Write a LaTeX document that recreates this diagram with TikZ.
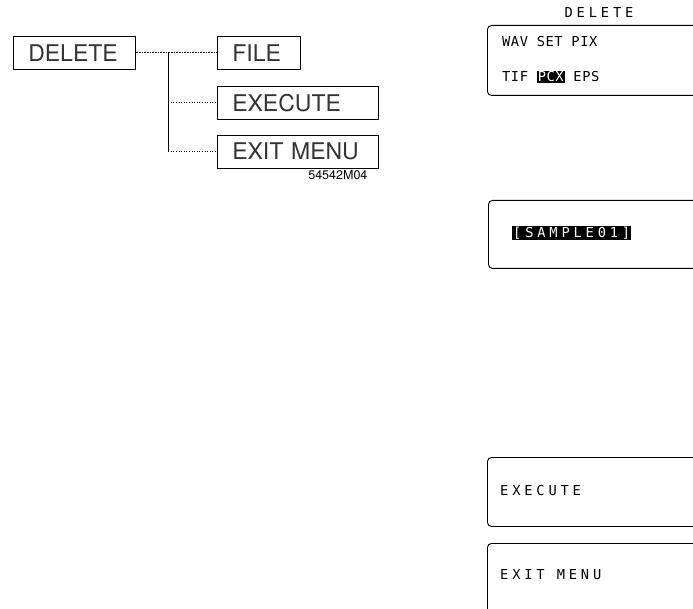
\documentclass[tikz,border=0pt]{standalone}
\usepackage{fontspec}
\setsansfont{TeX Gyre Heros}
\newfontfamily\lcdfuente[LetterSpace=4]{DejaVu Sans Mono}
\newfontfamily\lcdancho[LetterSpace=28]{DejaVu Sans Mono}
\usepackage{xcolor}
\usepackage{tikz}
\usetikzlibrary{positioning,calc}
\newcommand{\invertido}[1]{{\setlength{\fboxsep}{1pt}\colorbox{black}{\textcolor{white}{#1}}}}

\begin{document}
\begin{tikzpicture}[x=1pt, y=-1pt,
  caja/.style={draw, line width=0.6pt, anchor=north west, minimum height=33,
    inner xsep=15pt, inner ysep=0pt, align=left, text=black!80,
    font=\sffamily\fontsize{23}{24}\selectfont},
  linea/.style={line width=0.6pt},
  pantalla/.style={draw, line width=0.9pt, rounded corners=4pt, anchor=north west,
    minimum width=260, inner sep=0pt},
  fila/.style={anchor=west, inner sep=0pt, font=\lcdfuente\fontsize{13.7}{14}\selectfont},
  filaancha/.style={fila, font=\lcdancho\fontsize{13.7}{14}\selectfont}
]
  \useasboundingbox (0,0) rectangle (693,609);
  \clip (0,0) rectangle (693,609);

  % --- arbol del menu DELETE
  \node[caja, text width=92pt] (borrar) at (13,36) {DELETE};
  \node[caja, text width=53pt] (archivo) at (217,36) {FILE};
  \node[caja, text width=131pt] (ejecutar) at (217,86) {EXECUTE};
  \node[caja, text width=131pt] (salir) at (217,135) {EXIT MENU};
  \node[font=\sffamily\fontsize{12.5}{13}\selectfont, inner sep=0pt,
        below left=2pt and 11pt of salir.south east] (codigo) {54542M04};

  \coordinate (nudo) at ($(borrar.east)!0.4!(archivo.west)$);
  \draw[linea, densely dotted] (borrar.east) -- (archivo.west);
  \draw[linea] (nudo) -- (nudo |- salir.west);
  \draw[linea, dotted] (nudo |- ejecutar.west) -- (ejecutar.west);
  \draw[linea, dotted] (nudo |- salir.west) -- (salir.west);

  % --- pantallas
  \node[filaancha, anchor=center] (titulo) at (599,12.5) {DELETE};
  \node[pantalla, minimum height=70] (marcoA) at (487,25) {};
  \node[fila] (filaA) at (502,42) {WAV SET PIX};
  \node[fila] (filaB) at (502,77) {TIF \invertido{PCX} EPS};

  \node[pantalla, minimum height=68] (marcoB) at (488,200) {};
  \node[filaancha] (muestra) at (512,233) {\invertido{[SAMPLE01]}};

  \node[pantalla, minimum height=69] (marcoC) at (487,457) {};
  \node[filaancha] (ejec) at (500,491) {EXECUTE};

  \node[pantalla, minimum height=100] (marcoD) at (487,543) {};
  \node[filaancha] (salida) at (500,575) {EXIT MENU};
\end{tikzpicture}
\end{document}
